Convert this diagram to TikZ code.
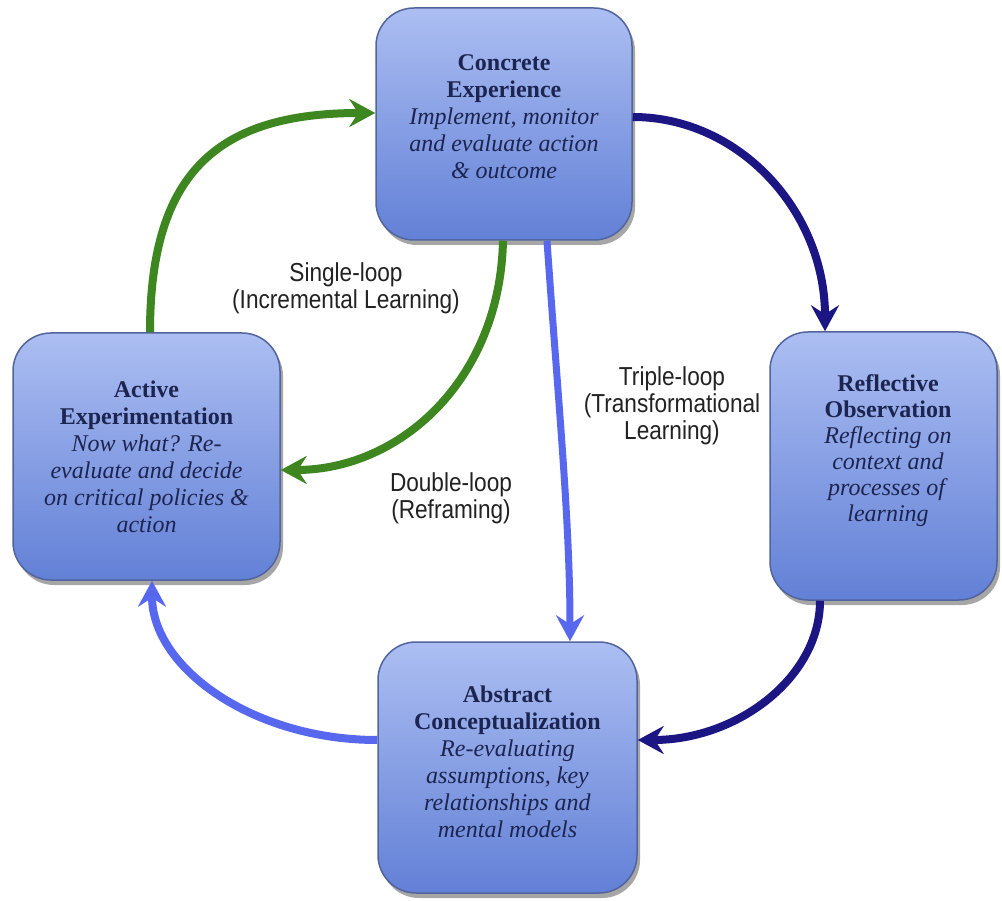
\documentclass[tikz,border=0pt]{standalone}
\usepackage{fontspec}
\setmainfont{Liberation Serif}
\newfontfamily\lblfont[FakeStretch=0.87]{Liberation Sans}
\usetikzlibrary{arrows.meta,shadows}
\definecolor{navy}{RGB}{28,22,132}
\definecolor{lightarrow}{RGB}{88,104,238}
\definecolor{greenarrow}{RGB}{62,134,32}
\definecolor{boxtop}{RGB}{172,190,242}
\definecolor{boxbot}{RGB}{98,128,214}
\definecolor{boxedge}{RGB}{82,100,156}
\definecolor{boxtext}{RGB}{28,36,80}
\definecolor{lbltext}{RGB}{34,34,34}
\tikzset{
  stagebox/.style={rectangle, rounded corners=38pt, draw=boxedge, line width=1.5pt,
    top color=boxtop, bottom color=boxbot,
    drop shadow={shadow xshift=3pt, shadow yshift=-5pt, opacity=0.35, fill=black}},
  stagetext/.style={align=center, inner sep=0pt, text=boxtext,
    font=\fontsize{24}{27}\selectfont},
  looplabel/.style={align=center, inner sep=0pt, text=lbltext,
    font=\lblfont\fontsize{26}{27}\selectfont},
  arr/.style={line width=8pt, -{Stealth[length=26pt,width=28pt,inset=9pt]}},
}
\begin{document}
\begin{tikzpicture}[x=1pt,y=-1pt]
\fill[white] (0,0) rectangle (1002,901);
\useasboundingbox (0,0) rectangle (1002,901);

% boxes
\node[stagebox, minimum width=256pt, minimum height=232pt] (ce) at (504,124) {};
\node[stagebox, minimum width=267pt, minimum height=247pt] (ae) at (146.5,456.5) {};
\node[stagebox, minimum width=227pt, minimum height=268pt] (ro) at (883.5,466) {};
\node[stagebox, minimum width=259pt, minimum height=251pt] (ac) at (507.5,767.5) {};

% box texts
\node[stagetext] (cet) at (504,117) {\textbf{Concrete}\\\textbf{Experience}\\\textit{Implement, monitor}\\\textit{and evaluate action}\\\textit{\& outcome}};
\node[stagetext] (aet) at (146.5,456.5) {\textbf{Active}\\\textbf{Experimentation}\\\textit{Now what? Re-}\\\textit{evaluate and decide}\\\textit{on critical policies \&}\\\textit{action}};
\node[stagetext, font=\fontsize{24}{26}\selectfont] (rot) at (888,451) {\textbf{Reflective}\\\textbf{Observation}\\\textit{Reflecting on}\\\textit{context and}\\\textit{processes of}\\\textit{learning}};
\node[stagetext] (act) at (507.5,761.5) {\textbf{Abstract}\\\textbf{Conceptualization}\\\textit{Re-evaluating}\\\textit{assumptions, key}\\\textit{relationships and}\\\textit{mental models}};

% loop labels
\node[looplabel] (single) at (346,288) {Single-loop\\(Incremental Learning)};
\node[looplabel] (double) at (451,498) {Double-loop\\(Reframing)};
\node[looplabel] (triple) at (672,406) {Triple-loop\\(Transformational\\Learning)};

% connectors
\draw[arr, navy] ([yshift=7pt]ce.east) .. controls (740,117) and (825,212) .. ([xshift=-58.5pt]ro.north);
\draw[arr, navy] ([xshift=-63.5pt]ro.south) .. controls (820,677) and (738,740) .. ([yshift=27.5pt]ac.east);
\draw[arr, lightarrow] ([yshift=27.5pt]ac.west) .. controls (253,740) and (152,668) .. ([xshift=5.5pt]ae.south);
\draw[arr, greenarrow] ([xshift=3.5pt]ae.north) .. controls (150,170) and (220,113) .. ([yshift=11pt]ce.west);
\draw[arr, greenarrow] ([xshift=-1pt]ce.south) .. controls (500,380) and (400,470) .. ([yshift=-13.5pt]ae.east);
\draw[arr, lightarrow, line width=7pt] ([xshift=43pt]ce.south) .. controls (558,400) and (570,520) .. ([xshift=62.5pt]ac.north);
\end{tikzpicture}
\end{document}
